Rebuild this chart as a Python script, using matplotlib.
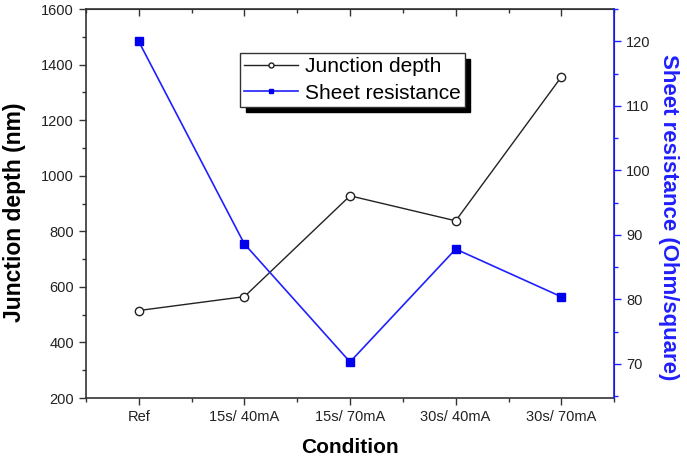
import matplotlib
matplotlib.use("Agg")
import matplotlib.pyplot as plt
from matplotlib.ticker import MultipleLocator

plt.rcParams["font.family"] = ["Liberation Sans", "DejaVu Sans"]

conditions = ["Ref", "15s/ 40mA", "15s/ 70mA", "30s/ 40mA", "30s/ 70mA"]
junction_depth = [515, 565, 928, 838, 1356]
sheet_resistance = [120.0, 88.6, 70.3, 87.8, 80.4]

BLUE = "#2020ff"
GRAY = "#333333"

fig = plt.figure(figsize=(6.87, 4.57), dpi=100)
ax = fig.add_axes([0.125, 0.129, 0.769, 0.851])
x = list(range(len(conditions)))

l1, = ax.plot(x, junction_depth, color="#222222", lw=1, marker="o", ms=6,
              mfc="white", mec="#222222", mew=1, label="Junction depth")
ax.set_xlim(-0.5, 4.5)
ax.set_ylim(200, 1600)
ax.yaxis.set_major_locator(MultipleLocator(200))
ax.yaxis.set_minor_locator(MultipleLocator(100))
ax.set_xticks(x)
ax.set_xticklabels(conditions)
ax.xaxis.set_minor_locator(MultipleLocator(0.5))
ax.tick_params(axis="both", which="major", labelsize=10.5, length=5, width=1,
               color=GRAY, labelcolor="#222222", direction="out")
ax.tick_params(axis="both", which="minor", length=3, width=1, color=GRAY,
               direction="out")
ax.set_xlabel("Condition", fontsize=15, fontweight="bold", labelpad=10)
ax.set_ylabel("Junction depth (nm)", fontsize=16.5, fontweight="bold")
ax.yaxis.set_label_coords(-0.113, 0.478)
for side in ("left", "bottom", "top"):
    ax.spines[side].set_color(GRAY)
    ax.spines[side].set_linewidth(1.2)

top = ax.secondary_xaxis("top")
top.set_xticks(x)
top.set_xticklabels([])
top.xaxis.set_minor_locator(MultipleLocator(0.5))
top.tick_params(which="major", direction="in", length=5, width=1, color=GRAY)
top.tick_params(which="minor", direction="in", length=3, width=1, color=GRAY)
top.spines["top"].set_color(GRAY)

ax2 = ax.twinx()
l2, = ax2.plot(x, sheet_resistance, color=BLUE, lw=1.2, marker="s", ms=6,
               mfc="#0000ee", mec="#0000ee", label="Sheet resistance")
ax2.set_ylim(64.7, 125)
ax2.yaxis.set_major_locator(MultipleLocator(10))
ax2.yaxis.set_minor_locator(MultipleLocator(5))
ax2.tick_params(axis="y", which="major", labelsize=10.5, length=5, width=1,
                color=BLUE, labelcolor="#222222", direction="out")
ax2.tick_params(axis="y", which="minor", length=3, width=1, color=BLUE,
                direction="out")
ax2.spines["right"].set_color(BLUE)
ax2.spines["right"].set_linewidth(1.2)
for side in ("left", "bottom", "top"):
    ax2.spines[side].set_visible(False)
ax2.set_ylabel("Sheet resistance (Ohm/square)", fontsize=16, fontweight="bold",
               color=BLUE, rotation=270)
ax2.yaxis.set_label_coords(1.123, 0.465)

leg = ax.legend(handles=[l1, l2], loc="upper left",
                bbox_to_anchor=(0.292, 0.887), fontsize=15, frameon=True,
                fancybox=False, edgecolor=GRAY, framealpha=1, markerscale=0.6,
                handlelength=2.6, handletextpad=0.3, borderpad=0.2,
                labelspacing=0.35, borderaxespad=0,
                shadow={"color": "black", "alpha": 1, "ox": 4, "oy": -4})
leg.get_frame().set_linewidth(1)
leg.set_zorder(10)

fig.savefig("out.png", dpi=100)
